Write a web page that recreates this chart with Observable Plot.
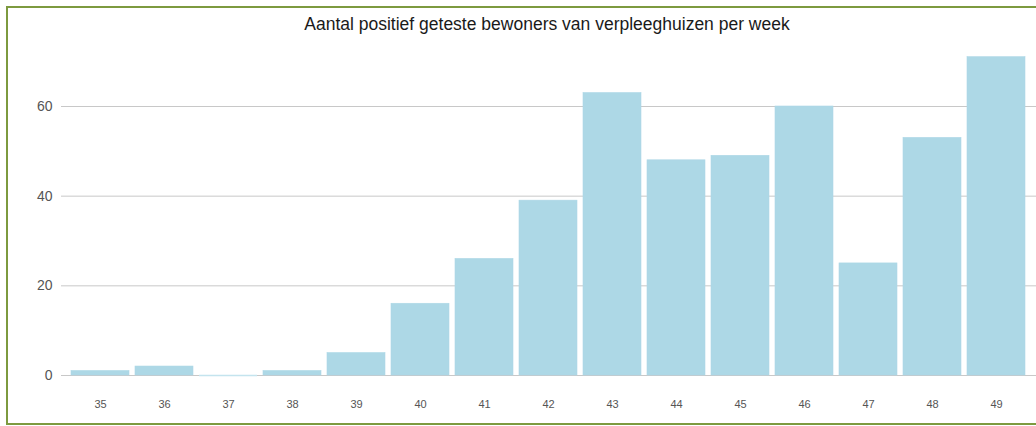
<!DOCTYPE html>
<html>
<head>
<meta charset="utf-8">
<script src="https://cdn.jsdelivr.net/npm/d3@7"></script>
<script src="https://cdn.jsdelivr.net/npm/@observablehq/plot@0.6"></script>
<style>
  html, body { margin: 0; padding: 0; background: #fff; overflow: hidden; }
  body { width: 1036px; height: 426px; position: relative; font-family: "Liberation Sans", Arial, sans-serif; }
  #frame { position: absolute; left: 6px; top: 6px; width: 1100px; height: 419px; box-sizing: border-box;
           border-left: 2px solid #7d9a3f; border-top: 2px solid #7d9a3f; border-bottom: 2px solid #7d9a3f; }
  #title { position: absolute; left: 0; top: 14px; width: 1094px; text-align: center; font-size: 17.5px; line-height: 20px; color: #1a1a1a; }
  #chart { position: absolute; left: 0; top: 0; }
</style>
</head>
<body>
<div id="frame"></div>
<div id="title">Aantal positief geteste bewoners van verpleeghuizen per week</div>
<div id="chart"></div>
<script>
const weeks = ["35","36","37","38","39","40","41","42","43","44","45","46","47","48","49"];
const counts = [1, 2, 0, 1, 5, 16, 26, 39, 63, 48, 49, 60, 25, 53, 71];
const yTicks = [0, 20, 40, 60];

const data = weeks.map((w, i) => ({week: w, count: counts[i]}));

const chart = Plot.plot({
  width: 1036,
  height: 426,
  marginLeft: 61,
  marginRight: 0,
  marginTop: 0,
  marginBottom: 51,
  style: {fontFamily: "Liberation Sans, Arial, sans-serif", background: "transparent", overflow: "visible"},
  x: {domain: weeks, paddingInner: 0.09, paddingOuter: 0.145, label: null},
  y: {domain: [0, 60], range: [375, 106], label: null},
  marks: [
    Plot.ruleY(yTicks, {stroke: "#c8c8c8", strokeWidth: 1}),
    Plot.barY(data, {x: "week", y: "count", fill: "#add8e6", stroke: "#add8e6", strokeWidth: 0.6}),
    Plot.tickY(data.filter(d => d.count === 0), {x: "week", y: "count", stroke: "#c4e4ee", strokeWidth: 1.5}),
    Plot.axisY(yTicks, {tickSize: 0, tickPadding: 9, fontSize: 14, fill: "#555", label: null}),
    Plot.axisX({tickSize: 0, tickPadding: 25, fontSize: 11, fill: "#555", label: null})
  ]
});
document.getElementById("chart").appendChild(chart);
</script>
</body>
</html>
